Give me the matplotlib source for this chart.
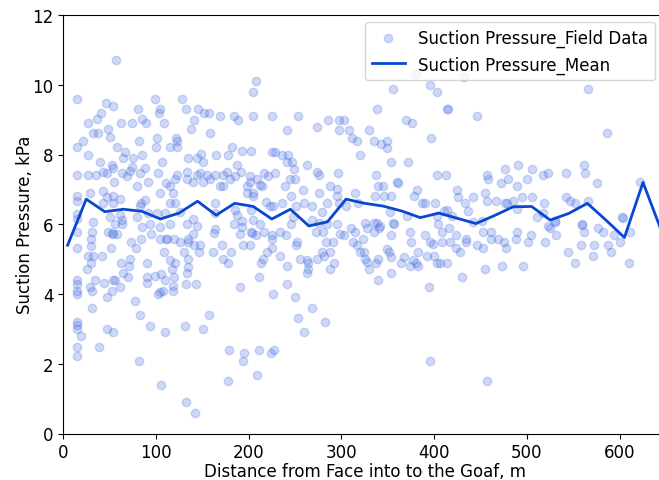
import matplotlib
matplotlib.use("Agg")
import matplotlib.pyplot as plt

# ---- data ----
mean_distance = [5, 25, 45, 65, 85, 105, 125, 145, 165, 185, 205, 225, 245, 265, 285,
                 305, 325, 345, 365, 385, 405, 425, 445, 465, 485, 505, 525, 545, 565,
                 585, 605, 625, 645]
mean_pressure = [5.40, 6.72, 6.36, 6.43, 6.37, 6.15, 6.32, 6.66, 6.26, 6.60, 6.51, 6.15,
                 6.43, 5.95, 6.07, 6.72, 6.60, 6.52, 6.38, 6.19, 6.32, 6.17, 6.02, 6.25,
                 6.50, 6.51, 6.12, 6.31, 6.60, 6.12, 5.62, 7.20, 5.80]

field_points = """
56.8,10.70 15.4,9.60 46.0,9.49 53.9,9.39 40.6,9.20 36.3,9.01 27.3,8.90 80.5,9.30 84.8,9.01
89.4,8.90 99.5,9.60 104.5,9.30 103.8,9.20 108.5,8.90 128.2,9.60 132.5,9.30 145.8,9.30
151.9,9.20 157.0,9.20 169.2,9.11 140.8,8.99 183.9,9.11 188.9,8.99 207.6,10.11 205.0,9.79
205.0,9.11 62.8,8.90 74.4,8.90 48.8,8.72 32.7,8.61 37.4,8.61 50.6,8.50 15.4,8.21 21.9,8.39
27.3,7.98 58.5,8.21 65.0,7.90 67.1,8.07 82.2,8.39 75.1,7.90 84.8,7.99 39.9,7.79 53.1,7.70
15.4,7.41 26.9,7.41 35.6,7.41 43.5,7.50 47.8,7.46 54.3,7.60 63.6,7.46 72.2,7.53 74.0,7.63
83.0,7.48 88.7,7.60 102.0,7.48 91.6,7.21 54.9,7.21 121.8,8.48 122.5,8.39 115.3,8.21
123.2,8.21 100.2,8.21 100.9,8.48 134.7,7.90 149.0,8.01 151.2,7.79 144.4,7.90 158.4,8.61
137.6,8.72 164.9,7.99 177.5,7.99 181.8,8.21 192.6,8.10 202.3,8.10 187.1,7.70 107.0,7.79
163.8,7.41 172.8,7.41 176.4,7.50 185.0,7.39 191.8,7.50 201.5,7.39 133.9,7.50 147.6,7.48
144.0,7.41 154.8,7.41 122.5,7.41 120.7,7.29 133.2,7.29 140.4,7.21 151.2,7.21 158.4,7.29
169.2,7.10 172.8,7.10 180.0,7.29 198.0,7.10 201.5,7.20 205.0,6.91 198.0,6.91 212.3,7.12
111.0,7.19 115.3,7.10 104.5,6.91 118.9,6.91 79.4,7.10 68.6,7.39 15.4,6.81 15.4,6.67
29.1,6.89 43.5,6.96 47.1,6.79 54.3,6.81 61.4,6.72 43.5,6.60 54.3,6.60 84.1,6.60 83.0,6.51
88.4,6.70 100.9,6.32 109.9,6.32 115.3,6.60 120.7,6.60 126.1,6.34 140.4,6.14 144.0,5.96
163.8,6.60 163.8,6.32 185.4,6.41 187.1,6.26 192.6,6.10 202.3,6.41 205.0,6.12 79.4,6.22
61.4,6.26 63.6,6.11 15.4,6.29 15.4,6.14 32.7,6.06 50.6,6.21 91.6,6.32
15.4,5.79 15.4,5.31 30.9,5.79 29.8,5.57 29.8,5.38 27.3,5.10 32.7,5.10 29.8,4.90 26.2,4.71
15.4,4.40 15.4,4.28 15.4,4.09 15.4,4.00 29.1,4.19 30.9,4.09 34.5,4.40 42.4,5.10 48.8,5.79
52.4,5.74 54.3,5.71 58.5,5.71 56.0,6.00 63.2,6.00 51.7,5.31 44.2,4.31 52.4,4.09 54.3,4.40
56.0,4.40 61.4,4.21 47.1,3.90 31.6,3.59 15.4,3.20 15.4,3.11 15.4,3.01 19.0,2.80 15.4,2.49
15.4,2.21 39.1,2.49 47.1,3.00 54.3,2.90 72.9,5.50 78.6,5.31 83.7,5.59 94.5,5.71 90.9,4.90
62.8,4.90 72.2,5.00 71.5,4.81 65.0,4.60 70.4,4.50 90.2,4.50 90.9,4.31 99.2,4.52 105.6,4.57
109.5,4.40 104.5,4.06 102.4,4.00 108.1,4.10 77.9,3.81 83.3,3.40 94.1,3.09 109.5,2.90
81.5,2.09 105.9,1.40 104.5,5.59 111.0,5.59 112.4,5.59 119.6,5.59 108.8,5.20 115.3,4.98
120.7,4.90 117.1,4.71 119.6,4.50 118.9,4.24 118.9,4.09 132.2,4.30 143.3,4.30 126.1,5.50
134.7,5.59 135.1,5.49 130.4,5.20 134.4,5.00 135.1,4.78 134.0,4.60 140.4,5.71 141.1,5.40
146.5,5.20 147.6,5.40 161.3,5.20 171.3,5.40 181.0,5.20 172.0,5.00 178.2,4.90 193.5,5.40
201.8,5.40 190.7,4.21 157.7,3.40 150.5,3.00 131.8,3.09 178.5,2.40 195.0,2.30 193.5,2.09
177.4,1.50 132.5,0.90 142.2,0.59 133.2,6.00 162.7,5.76 163.8,5.86 190.7,5.71 192.6,5.91
184.3,6.00 202.6,5.79 115.3,6.00 104.5,5.91 84.8,5.91 93.7,6.00
225.6,9.11 253.6,9.11 241.7,8.70 274.0,8.80 285.5,8.99 297.7,8.99 302.7,8.99 297.7,8.70
308.5,8.70 311.4,8.48 317.1,8.39 329.3,8.70 337.9,9.30 355.2,9.89 369.5,8.99 376.4,8.90
396.1,8.48 395.4,9.98 402.6,9.79 380.9,10.32 335.4,8.39 342.2,8.29 349.4,8.39 348.7,8.19
319.7,7.99 353.8,7.79 372.1,7.79 413.4,9.30 402.6,7.41 412.6,7.41 225.6,8.08 228.4,8.08
236.4,7.99 242.8,7.99 241.0,7.79 247.1,7.79 262.6,7.70 248.5,7.58 228.4,7.48 216.6,7.48
221.3,7.39 208.7,7.29 214.1,7.10 244.6,7.29 250.0,7.29 239.3,7.10 258.7,6.99 274.2,7.50
276.0,7.41 296.5,7.48 287.6,7.10 295.5,7.01 275.8,6.91 337.2,7.41 339.7,7.10 344.4,7.10
359.5,7.21 361.3,7.19 381.8,6.99 377.9,6.81 336.5,6.81 345.5,6.81 353.8,6.81 314.3,6.91
295.5,6.81 246.1,6.81 236.0,6.60 218.7,6.65 205.1,6.81 223.2,6.51 226.8,6.51 250.9,6.51
259.2,6.60 268.1,6.51 284.4,6.62 297.4,6.60 318.0,6.60 305.4,6.51 278.7,6.34 268.1,6.12
248.3,6.22 275.4,6.05 352.3,6.34 355.9,6.05 386.4,6.60 390.0,6.62 400.9,6.60 411.0,6.38
325.7,6.05 338.3,6.05 341.8,5.96 402.6,6.24 370.2,6.24
212.3,6.00 207.8,5.70 216.6,5.79 224.8,5.70 225.6,5.57 233.6,5.79 240.7,5.70 245.2,6.00
224.8,5.31 220.2,5.19 233.6,5.10 215.1,5.00 213.0,4.90 211.5,4.49 241.2,4.81 241.2,4.30
226.8,3.99 250.2,3.90 253.1,3.30 259.2,2.90 268.5,3.59 281.8,3.20 211.5,2.40 223.7,2.30
227.2,2.40 208.7,1.68 251.8,5.49 250.7,5.40 255.4,5.00 262.6,4.98 264.4,4.90 263.5,4.71
262.9,4.60 273.3,5.00 278.7,5.20 281.3,5.10 287.8,5.19 292.1,4.90 287.6,4.71 283.5,5.49
290.7,5.49 272.6,5.79 280.5,5.79 284.1,6.00 295.6,6.00 298.5,5.71 302.8,5.70 310.0,5.88
315.1,5.79 312.9,5.49 316.5,5.40 320.1,5.20 324.4,5.19 325.5,5.00 327.3,4.92 329.8,4.71
323.7,5.57 327.3,5.89 335.5,5.79 335.1,6.05 340.5,5.89 356.7,6.00 353.5,5.70 348.8,5.28
351.7,5.19 353.1,5.07 337.3,4.90 339.1,5.00 339.8,4.40 353.8,4.60 363.9,4.90 367.5,5.07
374.0,5.79 375.5,5.49 376.9,4.98 380.1,4.90 382.3,5.20 373.4,4.81 382.6,4.81 390.0,5.70
395.4,5.49 399.0,5.43 391.8,5.10 399.7,5.10 403.3,4.90 394.7,4.21 395.8,2.09 408.7,5.49
413.4,4.90 408.0,5.79 404.4,6.00 203.3,5.76
432.1,10.21 415.2,9.30 446.5,9.11 565.3,9.89 585.7,8.61 457.3,7.41 458.4,7.29 476.2,7.58
490.6,7.70 504.9,7.58 479.8,7.29 471.5,7.19 500.4,7.29 489.7,7.10 516.9,7.41 523.0,7.48
541.7,7.48 561.8,7.70 562.5,7.48 575.0,7.19 621.7,7.21 424.9,6.99 426.0,6.79 442.2,6.79
454.8,6.91 456.6,6.67 466.7,6.67 476.2,6.60 478.0,6.60 484.4,6.67 494.1,6.79 504.9,6.79
489.0,6.44 518.4,6.60 517.0,6.32 530.5,6.10 541.7,6.79 546.1,6.67 551.5,6.60 566.0,6.67
602.5,6.20 433.2,6.60 436.8,6.38 413.5,6.41 418.9,6.24 452.0,6.10 442.0,6.06 510.4,6.20
523.0,5.96 558.9,6.01
416.3,5.90 423.5,5.70 423.1,5.31 427.8,5.21 417.0,5.50 406.3,4.90 429.6,4.49 434.3,5.59
434.3,5.50 446.5,5.40 452.2,5.79 452.9,5.31 461.5,5.79 460.8,5.59 469.0,5.59 475.3,5.50
477.5,5.31 454.7,4.71 473.4,4.81 456.6,1.50 489.5,5.79 487.7,5.59 501.0,5.50 503.9,5.70
496.0,4.81 519.0,5.50 524.8,5.90 531.3,5.70 530.2,6.07 544.2,5.21 552.1,4.90 558.6,5.40
559.7,5.99 561.8,5.79 572.2,5.40 571.5,5.10 576.8,5.90 581.8,5.79 587.2,5.40 590.1,5.21
593.3,5.70 600.5,5.50 610.6,5.79 609.8,4.90 603.0,6.19
"""
pairs = [p.split(",") for p in field_points.split()]
field_distance = [float(a) for a, b in pairs]
field_pressure = [float(b) for a, b in pairs]

x_ticks = [0, 100, 200, 300, 400, 500, 600]
y_ticks = [0, 2, 4, 6, 8, 10, 12]

# ---- figure ----
W, H = 659, 481
fig = plt.figure(figsize=(W / 100, H / 100), dpi=100)
ax = fig.add_axes([63 / W, (H - 434.5) / H, 603.2 / W, (434.5 - 16) / H])

ax.scatter(field_distance, field_pressure, s=36, color="#4169e1", alpha=0.25,
           linewidths=1.0, label="Suction Pressure_Field Data", zorder=2)
ax.plot(mean_distance, mean_pressure, color="#0a47d1", linewidth=2.0,
        label="Suction Pressure_Mean", zorder=3)

ax.set_xlim(0, 650)
ax.set_ylim(0, 12)
ax.set_xticks(x_ticks)
ax.set_yticks(y_ticks)
ax.tick_params(labelsize=12)
ax.set_xlabel("Distance from Face into to the Goaf, m", fontsize=12, labelpad=0.5)
ax.set_ylabel("Suction Pressure, kPa", fontsize=12, labelpad=-1.5)

ax.legend(loc="upper right", bbox_to_anchor=(655 / W, (H - 23) / H),
          bbox_transform=fig.transFigure, borderaxespad=0, fontsize=12)

fig.savefig("out.png", dpi=100)
